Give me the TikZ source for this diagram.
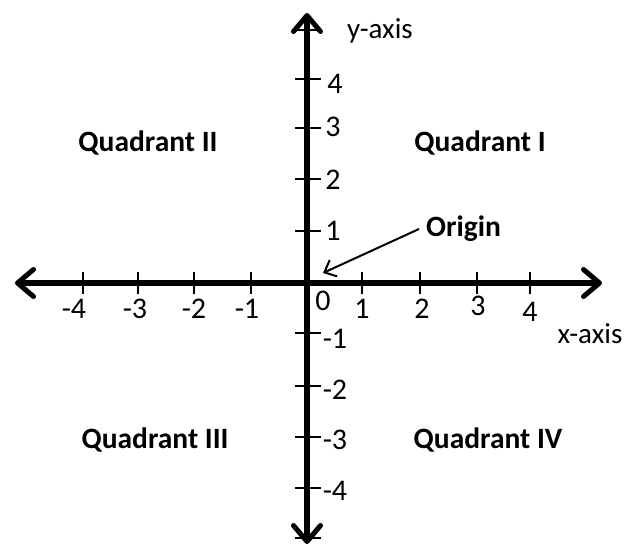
\documentclass[tikz,border=0pt]{standalone}
\usepackage{fontspec}
\setmainfont{Carlito}
\usetikzlibrary{arrows.meta}
\tikzset{
  axisline/.style={line width=5.5pt, line cap=round, -{Straight Barb[length=16pt, width=27pt, line width=5pt, round]}},
  tickline/.style={line width=1.2pt},
  num/.style={font=\fontsize{30}{33}\selectfont, inner sep=0pt, anchor=center},
  quad/.style={font=\fontsize{29.5}{33}\selectfont\bfseries, inner sep=0pt, anchor=center},
  lbl/.style={font=\fontsize{29}{33}\selectfont, inner sep=0pt, anchor=center},
}
\begin{document}
\begin{tikzpicture}[x=1pt, y=-1pt]
\useasboundingbox (0,0) rectangle (626,548);
% ticks on x axis
\foreach \x in {83,138,194,251,362,420,477,530} {
  \draw[tickline] (\x,272) -- (\x,294);
}
% ticks on y axis
\foreach \y in {30,79,128,179,231,333,386,437,488,538} {
  \draw[tickline] (295,\y) -- (321,\y);
}
\coordinate (O) at (307,283);
\coordinate (xl) at (15,283);
\coordinate (xr) at (602,283);
\coordinate (yt) at (307,13);
\coordinate (yb) at (307,544);
\draw[axisline] (O) -- (xl);
\draw[axisline] (O) -- (xr);
\draw[axisline] (O) -- (yt);
\draw[axisline] (O) -- (yb);
% x labels
\node[num] (xm4) at (74,309) {-4};
\node[num] (xm3) at (135,309) {-3};
\node[num] (xm2) at (194,309) {-2};
\node[num] (xm1) at (247,309) {-1};
\node[num] (x0) at (323,301) {0};
\node[num] (x1) at (362,309) {1};
\node[num] (x2) at (422,309) {2};
\node[num] (x3) at (478,306) {3};
\node[num] (x4) at (530,312) {4};
% y labels
\node[num] (y4) at (335,84) {4};
\node[num] (y3) at (333,127) {3};
\node[num] (y2) at (333,180) {2};
\node[num] (y1) at (333,231) {1};
\node[num] (ym1) at (335,339) {-1};
\node[num] (ym2) at (335,390) {-2};
\node[num] (ym3) at (335,440) {-3};
\node[num] (ym4) at (335,491) {-4};
% axis labels
\node[lbl] (ylab) at (380,31) {y-axis};
\node[lbl] (xlab) at (590,334) {x-axis};
% quadrants
\node[quad] (q2) at (148,143) {Quadrant II};
\node[quad] (q1) at (480,143) {Quadrant I};
\node[quad] (q3) at (155,440) {Quadrant III};
\node[quad] (q4) at (488,440) {Quadrant IV};
% origin
\node[quad, anchor=west] (orig) at (426,229) {Origin};
\coordinate (otip) at (323,273);
\draw[line width=2pt, -{Straight Barb[length=10pt, width=18pt, line width=2pt]}] ([xshift=-7pt]orig.west) -- (otip);
\end{tikzpicture}
\end{document}
